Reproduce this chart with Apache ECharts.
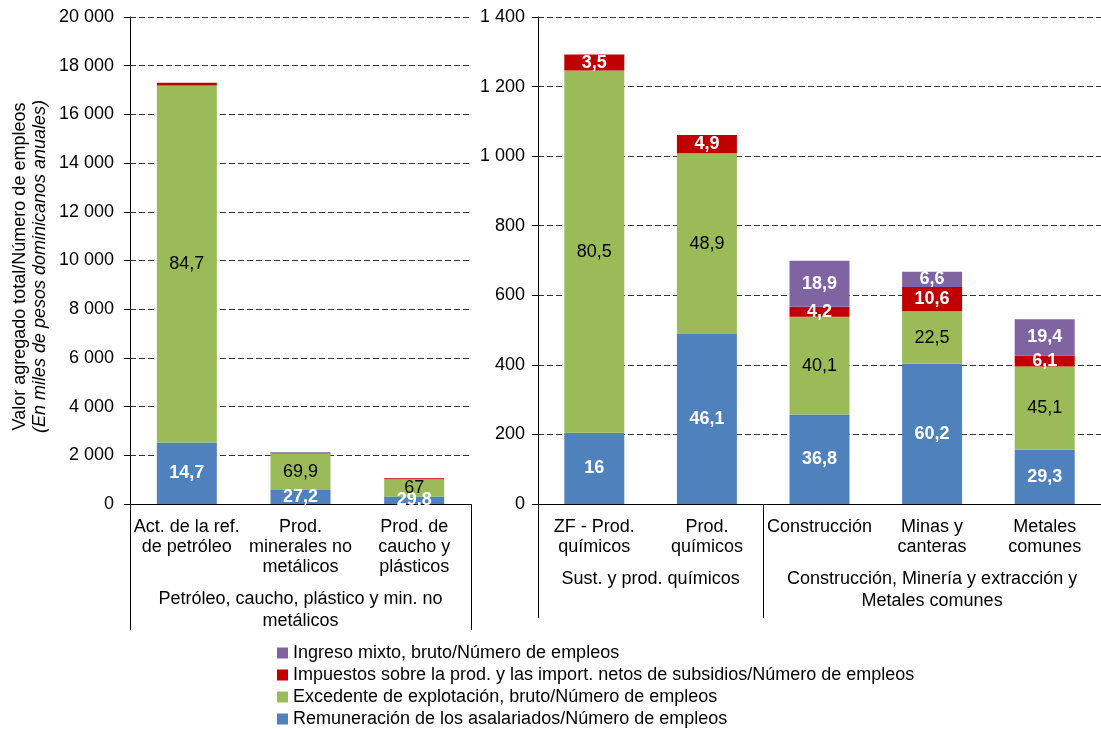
<!DOCTYPE html>
<html>
<head>
    <meta charset="utf-8">
    <title>Valor agregado por empleo</title>
    <script src="https://cdn.jsdelivr.net/npm/echarts@6/dist/echarts.min.js"></script>
</head>
<body style="margin:0;background:#fff;">
    <div id="main" style="width: 1101px;height: 729px;"></div>
    <script type="text/javascript">
// datos: panel izquierdo
var leftCats = ['Act. de la ref.\nde petróleo', 'Prod.\nminerales no\nmetálicos', 'Prod. de\ncaucho y\nplásticos'];
var leftGroups = ['Petróleo, caucho, plástico y min. no\nmetálicos'];
var leftSpans = [3];
var leftRemun = [2530, 570, 310];
var leftExced = [14660, 1490, 710];
var leftImpu = [110, 20, 35];
var leftMixto = [0, 45, 0];
var leftRemunLbl = ['14,7', '27,2', '29,8'];
var leftExcedLbl = ['84,7', '69,9', '67'];
var leftImpuLbl = ['', '', ''];
var leftMixtoLbl = ['', '', ''];

// datos: panel derecho
var rightCats = ['ZF - Prod.\nquímicos', 'Prod.\nquímicos', 'Construcción', 'Minas y\ncanteras', 'Metales\ncomunes'];
var rightGroups = ['Sust. y prod. químicos', 'Construcción, Minería y extracción y\nMetales comunes'];
var rightSpans = [2, 3];
var rightRemun = [205, 489, 257, 403, 156];
var rightExced = [1041, 519, 281, 151, 239];
var rightImpu = [46, 53, 29, 70, 32];
var rightMixto = [0, 0, 132, 44, 104];
var rightRemunLbl = ['16', '46,1', '36,8', '60,2', '29,3'];
var rightExcedLbl = ['80,5', '48,9', '40,1', '22,5', '45,1'];
var rightImpuLbl = ['3,5', '4,9', '4,2', '10,6', '6,1'];
var rightMixtoLbl = ['', '', '18,9', '6,6', '19,4'];

var names = [
    'Remuneración de los asalariados/Número de empleos',
    'Excedente de explotación, bruto/Número de empleos',
    'Impuestos sobre la prod. y las import. netos de subsidios/Número de empleos',
    'Ingreso mixto, bruto/Número de empleos'
];
var colors = ['#4F81BD', '#9BBB59', '#C00000', '#8064A2'];

var FONT = "'Liberation Sans', Arial, sans-serif";
var FS = 18;

function fmt(v) {
    return String(v).replace(/\B(?=(\d{3})+(?!\d))/g, ' ');
}

// posiciones de separadores y centros de grupo
function groupTicks(spans) {
    var t = [0], s = 0;
    spans.forEach(function (n) { s += n; t.push(s); });
    return t;
}
function groupCenters(spans) {
    var c = [], s = 0;
    spans.forEach(function (n) { c.push(s + n / 2); s += n; });
    return c;
}

function catAxis(grid, cats, tickLen) {
    return {
        type: 'category', gridIndex: grid, data: cats, position: 'bottom',
        axisLine: { lineStyle: { color: '#000', width: 1 } },
        axisTick: { interval: 0, length: tickLen, lineStyle: { color: '#000' } },
        axisLabel: { interval: 0, color: '#000', fontSize: FS, lineHeight: 20, fontFamily: FONT, margin: 13 }
    };
}

function groupAxis(grid, groups, spans, tickLen, margin) {
    var centers = groupCenters(spans);
    return {
        type: 'value', gridIndex: grid, position: 'bottom', min: 0, max: groupTicks(spans).slice(-1)[0],
        axisLine: { show: false, onZero: false },
        splitLine: { show: false },
        axisTick: { show: true, customValues: groupTicks(spans), length: tickLen, lineStyle: { color: '#000' } },
        axisLabel: {
            customValues: centers, color: '#000', fontSize: FS, lineHeight: 22, fontFamily: FONT, margin: margin,
            formatter: function (v) {
                var i = centers.indexOf(v);
                return i >= 0 ? groups[i] : '';
            }
        }
    };
}

function valAxis(grid, max, interval, margin, extra) {
    var ax = {
        type: 'value', gridIndex: grid, min: 0, max: max, interval: interval,
        axisLine: { show: true, onZero: false, lineStyle: { color: '#000' } },
        axisTick: { show: true, length: 6, lineStyle: { color: '#000' } },
        axisLabel: { color: '#000', fontSize: FS, fontFamily: FONT, margin: margin, formatter: fmt },
        splitLine: { lineStyle: { color: '#333', type: [6, 3], width: 1 } }
    };
    return Object.assign(ax, extra || {});
}

function makeSeries(xi, yi, vals, lbls) {
    return vals.map(function (v, k) {
        var green = k === 1;
        return {
            name: names[k], type: 'bar', stack: 'p' + xi, xAxisIndex: xi, yAxisIndex: yi,
            barWidth: 60, data: v,
            itemStyle: { color: colors[k] },
            label: {
                show: true, position: 'inside', fontSize: FS, fontFamily: FONT,
                color: green ? '#000' : '#fff', fontWeight: green ? 'normal' : 'bold',
                formatter: function (p) { return lbls[k][p.dataIndex] || ''; }
            }
        };
    });
}

var myChart = echarts.init(document.getElementById('main'));

myChart.setOption({
    animation: false,
    textStyle: { fontFamily: FONT },
    grid: [
        { left: 130, top: 17, width: 341, height: 487 },
        { left: 538, top: 17, width: 568, height: 487 }
    ],
    xAxis: [
        catAxis(0, leftCats, 73),
        groupAxis(0, leftGroups, leftSpans, 126, 84),
        catAxis(1, rightCats, 59),
        groupAxis(1, rightGroups, rightSpans, 114, 64)
    ],
    yAxis: [
        valAxis(0, 20000, 2000, 16, {
            name: '{a|Valor agregado total/Número de empleos}\n{b|(En miles de pesos dominicanos anuales)}',
            nameLocation: 'middle', nameRotate: 90, nameGap: 80,
            nameTextStyle: {
                padding: [0, 12, 0, 0],
                rich: {
                    a: { fontSize: FS, lineHeight: 20, color: '#000', fontFamily: FONT },
                    b: { fontSize: FS, lineHeight: 20, color: '#000', fontStyle: 'italic', fontFamily: FONT }
                }
            }
        }),
        valAxis(1, 1400, 200, 13)
    ],
    legend: {
        orient: 'vertical', left: 277, top: 644, padding: 0,
        data: [names[3], names[2], names[1], names[0]],
        icon: 'rect', itemWidth: 11, itemHeight: 11, itemGap: 4,
        textStyle: { fontSize: FS, lineHeight: 18, color: '#000', fontFamily: FONT }
    },
    series: makeSeries(0, 0, [leftRemun, leftExced, leftImpu, leftMixto],
                       [leftRemunLbl, leftExcedLbl, leftImpuLbl, leftMixtoLbl])
        .concat(makeSeries(2, 1, [rightRemun, rightExced, rightImpu, rightMixto],
                           [rightRemunLbl, rightExcedLbl, rightImpuLbl, rightMixtoLbl]))
});
    </script>
</body>
</html>
